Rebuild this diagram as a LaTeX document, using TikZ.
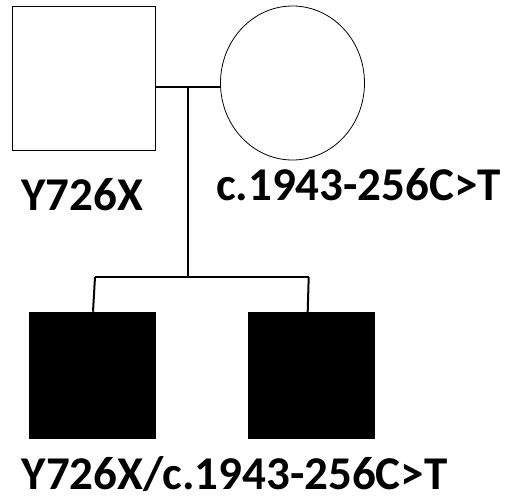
\documentclass[tikz,border=0pt]{standalone}
\usepackage{fontspec}
\setmainfont{Carlito}
\usetikzlibrary{shapes.geometric}
\begin{document}
\begin{tikzpicture}[x=1pt,y=-1pt,
  person/.style={draw=black,line width=1pt,minimum width=143pt,minimum height=144pt,inner sep=0pt,outer sep=0pt},
  affected/.style={fill=black,draw=none,minimum width=127pt,minimum height=127pt,inner sep=0pt,outer sep=0pt},
  female/.style={ellipse,draw=black,line width=0.8pt,minimum width=144pt,minimum height=154pt,inner sep=0pt,outer sep=0pt},
  link/.style={line width=2pt,line cap=butt},
  lbl/.style={font=\fontsize{47}{50}\selectfont\bfseries,anchor=base,inner sep=0pt}]
\useasboundingbox (0,0) rectangle (508,501);
\node[person] (father) at (83.6,78) {};
\node[female] (mother) at (292.5,83) {};
\node[affected] (son1) at (92.5,375.2) {};
\node[affected] (son2) at (311,375.5) {};
\coordinate (mid) at (188,87);
\coordinate (sib) at (188,277);
\coordinate (sibL) at (95,277);
\coordinate (sibR) at (308.7,277);
\draw[link] (father.east |- mid) -- (mother.west |- mid);
\draw[link] (mid) -- (sib);
\draw[link] (sibL) -- (sibR);
\draw[link] (sibL) -- (93,311.7);
\draw[link] (sibR) -- (307.7,312);
\node[lbl] (lf) at (82,210) {Y726X};
\node[lbl] (lm) at (358.5,200) {c.1943-256C>T};
\node[lbl] (lc) at (234.5,489) {Y726X/c.1943-256C>T};
\end{tikzpicture}
\end{document}
